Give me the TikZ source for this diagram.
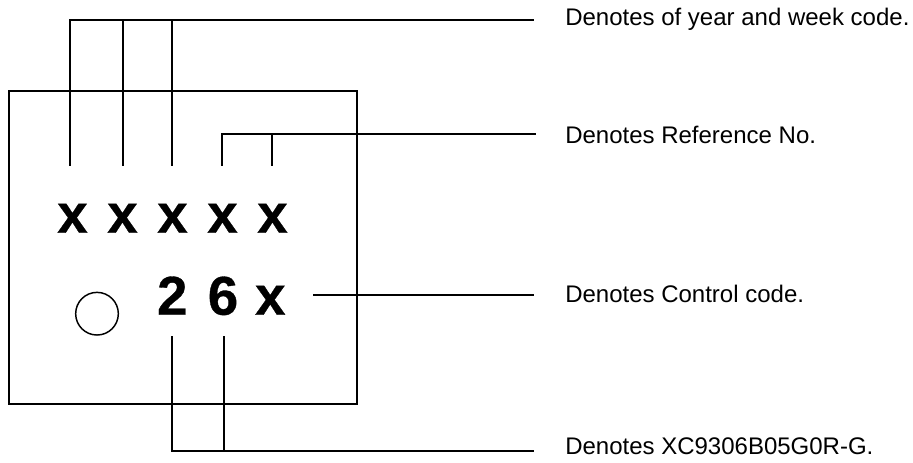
\documentclass[tikz,border=0pt]{standalone}
\usepackage{fontspec}
\setmainfont{Liberation Sans}
\newfontfamily\heavyfont[FakeBold=0.6]{Liberation Sans Bold}
\tikzset{
  px/.style={x=0.75pt,y=-0.75pt},
  conn/.style={draw=black,line width=1.1pt,line cap=butt},
  desc/.style={anchor=base west,inner sep=0pt,font=\fontsize{18pt}{21pt}\selectfont,text=black},
  code/.style={anchor=base,inner sep=0pt,font=\fontsize{41pt}{46pt}\heavyfont,text=black},
}
\begin{document}
\begin{tikzpicture}[px]
\useasboundingbox (0,0) rectangle (913,463);
\fill[white] (0,0) rectangle (913,463);
\node[draw=black,line width=1.5pt,rectangle,inner sep=0pt,minimum width=261.5pt,minimum height=235pt] (box) at (183,247.3) {};
\node[code] (x1) at (72.5,232.7) {x};
\node[code] (x2) at (122.5,232.7) {x};
\node[code] (x3) at (172.5,232.7) {x};
\node[code] (x4) at (222.5,232.7) {x};
\node[code] (x5) at (272.5,232.7) {x};
\node[code] (d2) at (172.3,314.7) {2};
\node[code] (d6) at (223,314.7) {6};
\node[code] (x6) at (270.3,314.7) {x};
\node[draw=black,line width=1.1pt,circle,minimum size=32pt,inner sep=0pt] (mark) at (97,313.7) {};
\node[desc] (t1) at (565,26) {Denotes of year and week code.};
\node[desc] (t2) at (565,143.3) {Denotes Reference No.};
\node[desc] (t3) at (565,302.7) {Denotes Control code.};
\node[desc] (t4) at (565,454.7) {Denotes XC9306B05G0R-G.};
\coordinate (e1) at (534,20);
\coordinate (e2) at (536,134);
\coordinate (e3) at (534,295);
\coordinate (e4) at (534,451);
\coordinate (a1) at (70,165.7); \coordinate (a2) at (123,165.7); \coordinate (a3) at (172,165.7);
\coordinate (a4) at (222,165.7); \coordinate (a5) at (272,165.7);
\coordinate (b1) at (172,336); \coordinate (b2) at (224,336);
\coordinate (c3) at (313,295);
\draw[conn] (a1) -- (a1 |- e1) -- (e1);
\draw[conn] (a2) -- (a2 |- e1);
\draw[conn] (a3) -- (a3 |- e1);
\draw[conn] (a4) -- (a4 |- e2) -- (e2);
\draw[conn] (a5) -- (a5 |- e2);
\draw[conn] (c3) -- (e3);
\draw[conn] (b1) -- (b1 |- e4) -- (e4);
\draw[conn] (b2) -- (b2 |- e4);
\end{tikzpicture}
\end{document}
